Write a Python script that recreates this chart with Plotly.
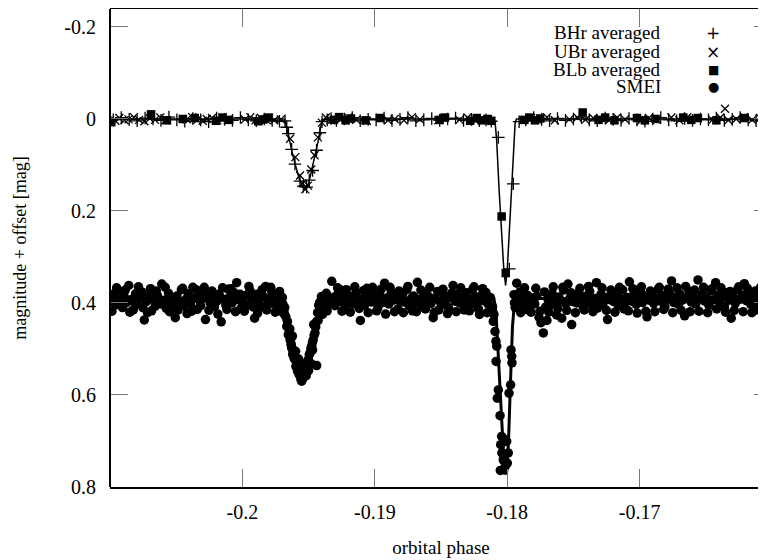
import plotly.graph_objects as go

# ---------------- data ----------------
# BHr averaged (+)
bhr_phase = [-0.20975, -0.20915, -0.20855, -0.20795, -0.20735, -0.20675, -0.20615, -0.20555, -0.20495, -0.20435,
             -0.20375, -0.20315, -0.20255, -0.20195, -0.20135, -0.20075, -0.20015, -0.19955, -0.19895, -0.19835,
             -0.19775, -0.19720,
             -0.19678, -0.19665, -0.19652, -0.19628, -0.19603, -0.19565, -0.19540, -0.19515, -0.19495, -0.19470,
             -0.19440, -0.19415, -0.19398,
             -0.19360, -0.19330, -0.19290, -0.19230, -0.19170, -0.19110, -0.19050, -0.18990, -0.18930, -0.18870,
             -0.18810, -0.18750, -0.18690, -0.18630, -0.18570, -0.18510, -0.18450, -0.18390, -0.18330, -0.18270,
             -0.18210, -0.18160, -0.18120,
             -0.18067, -0.17984, -0.17954, -0.17910,
             -0.17860, -0.17800, -0.17740, -0.17680, -0.17620, -0.17560, -0.17500, -0.17440, -0.17380, -0.17320,
             -0.17260, -0.17200, -0.17140, -0.17080, -0.17020, -0.16960, -0.16900, -0.16840, -0.16780, -0.16720,
             -0.16660, -0.16600, -0.16540, -0.16480, -0.16420, -0.16360, -0.16300, -0.16240, -0.16180, -0.16120,
             -0.16060]
bhr_mag = [0.002, -0.003, 0.001, 0.004, -0.002, 0.000, 0.003, -0.004, 0.002, 0.005,
           -0.001, 0.002, 0.006, -0.002, 0.001, 0.003, -0.003, 0.002, 0.004, 0.000,
           0.003, 0.005,
           0.004, 0.018, 0.032, 0.066, 0.098, 0.135, 0.146, 0.148, 0.133, 0.112,
           0.068, 0.030, 0.006,
           0.002, -0.001, 0.003, 0.000, -0.003, 0.004, 0.001, 0.002, -0.002, 0.003,
           0.001, -0.003, 0.004, 0.002, -0.001, 0.003, 0.000, -0.002, 0.003, 0.001,
           0.004, 0.002, 0.005,
           0.040, 0.326, 0.141, 0.006,
           0.002, -0.003, 0.001, 0.004, -0.001, 0.003, 0.000, -0.004, 0.002, 0.004,
           -0.002, 0.001, 0.003, -0.001, 0.002, 0.005, 0.000, -0.003, 0.002, 0.004,
           -0.001, 0.003, 0.000, 0.002, -0.002, 0.003, 0.001, -0.003, 0.002, 0.004,
           0.000]

# UBr averaged (x)
ubr_phase = [-0.20960, -0.20930, -0.20890, -0.20860, -0.20820, -0.20780, -0.20740, -0.20700, -0.20660, -0.20620,
             -0.20580, -0.20420, -0.20380, -0.20340, -0.20300, -0.20270, -0.20230, -0.20190, -0.20150, -0.20110,
             -0.19980, -0.19940, -0.19900, -0.19860, -0.19820, -0.19760, -0.19710,
             -0.19640, -0.19600, -0.19565, -0.19545, -0.19525, -0.19505, -0.19480, -0.19455, -0.19430, -0.19400,
             -0.19370, -0.19330, -0.19260, -0.19200, -0.19140, -0.19060, -0.18960, -0.18900, -0.18850, -0.18780,
             -0.18720, -0.18660, -0.18520, -0.18480, -0.18360, -0.18300, -0.18240, -0.18180,
             -0.17880, -0.17820, -0.17770, -0.17700, -0.17640, -0.17530, -0.17470, -0.17410, -0.17350, -0.17230,
             -0.17170, -0.17110, -0.16990, -0.16930, -0.16870, -0.16760, -0.16700, -0.16640, -0.16450, -0.16390,
             -0.16355, -0.16330, -0.16270, -0.16210, -0.16150, -0.16090]
ubr_mag = [0.004, -0.002, 0.003, 0.001, -0.004, 0.002, 0.005, -0.001, 0.002, -0.003,
           0.003, 0.001, -0.004, 0.002, 0.004, 0.000, -0.002, 0.003, -0.003, 0.002,
           0.001, -0.004, 0.003, -0.002, 0.002, 0.003, 0.001,
           0.043, 0.083, 0.123, 0.140, 0.153, 0.145, 0.110, 0.079, 0.040, 0.008,
           -0.003, 0.003, 0.002, -0.003, 0.002, 0.004, -0.002, 0.003, 0.000, 0.003,
           -0.004, 0.001, 0.003, -0.002, 0.002, -0.003, 0.004, 0.001,
           0.003, -0.002, 0.002, -0.004, 0.003, 0.001, -0.003, 0.002, -0.002, 0.003,
           -0.003, 0.001, 0.004, -0.002, 0.002, -0.003, 0.003, -0.004, 0.002, -0.003,
           -0.022, 0.003, 0.000, -0.004, 0.002, -0.002]

# BLb averaged (squares)
blb_phase = [-0.20990, -0.20690, -0.20570, -0.20450, -0.20360, -0.20200, -0.20150, -0.20100, -0.19880, -0.19840,
             -0.19800, -0.19310, -0.19270, -0.19220, -0.19180, -0.19070, -0.18960, -0.18510, -0.18470, -0.18280,
             -0.18230, -0.18190, -0.18150, -0.18120,
             -0.18042, -0.18011,
             -0.17870, -0.17830, -0.17790, -0.17750, -0.17430, -0.17310, -0.17260, -0.17190, -0.17020, -0.16960,
             -0.16880, -0.16670, -0.16610, -0.16560, -0.16420, -0.16210]
blb_mag = [0.007, -0.010, 0.003, 0.000, -0.002, 0.004, -0.003, 0.002, 0.005, 0.001,
           -0.003, 0.002, -0.004, 0.003, -0.001, 0.003, -0.002, 0.002, -0.003, 0.004,
           -0.002, 0.003, 0.000, 0.004,
           0.212, 0.335,
           0.002, -0.003, 0.003, -0.001, -0.014, 0.002, -0.003, 0.003, -0.002, 0.003,
           0.000, -0.003, 0.002, -0.002, 0.003, -0.002]

# SMEI (circles), offset +0.39 mag
smei_phase = [
    -0.20992, -0.20975, -0.20957, -0.20940, -0.20921, -0.20906,
    -0.20893, -0.20876, -0.20858, -0.20842, -0.20824, -0.20807,
    -0.20795, -0.20777, -0.20760, -0.20741, -0.20726, -0.20708,
    -0.20694, -0.20678, -0.20659, -0.20643, -0.20625, -0.20609,
    -0.20591, -0.20575, -0.20558, -0.20540, -0.20526, -0.20507,
    -0.20495, -0.20476, -0.20461, -0.20442, -0.20427, -0.20409,
    -0.20392, -0.20374, -0.20357, -0.20341, -0.20323, -0.20306,
    -0.20297, -0.20279, -0.20262, -0.20244, -0.20229, -0.20211,
    -0.20193, -0.20176, -0.20160, -0.20142, -0.20125, -0.20108,
    -0.20096, -0.20078, -0.20061, -0.20043, -0.20027, -0.20010,
    -0.19994, -0.19977, -0.19959, -0.19943, -0.19926, -0.19908,
    -0.19893, -0.19876, -0.19860, -0.19842, -0.19825, -0.19807,
    -0.19795, -0.19778, -0.19761, -0.19744, -0.19727, -0.19710,
    -0.19698, -0.19692,
    -0.19691, -0.19680, -0.19672, -0.19665, -0.19653, -0.19646, -0.19640, -0.19633, -0.19628, -0.19620,
    -0.19616, -0.19609, -0.19603, -0.19596, -0.19590, -0.19584, -0.19578, -0.19571, -0.19565, -0.19558,
    -0.19552, -0.19546, -0.19540, -0.19533, -0.19527, -0.19521, -0.19514, -0.19508, -0.19502, -0.19495,
    -0.19489, -0.19483, -0.19477, -0.19471, -0.19465, -0.19458, -0.19452, -0.19446, -0.19462, -0.19439,
    -0.19439,
    -0.19660, -0.19642, -0.19622, -0.19598, -0.19575, -0.19545, -0.19518, -0.19500, -0.19482, -0.19470,
    -0.19432, -0.19424, -0.19415, -0.19403, -0.19390, -0.19378, -0.19366, -0.19352, -0.19340, -0.19325,
    -0.19312, -0.19301,
    -0.19289, -0.19273, -0.19256, -0.19241, -0.19224, -0.19207,
    -0.19194, -0.19176, -0.19160, -0.19143, -0.19127, -0.19109,
    -0.19093, -0.19077, -0.19059, -0.19042, -0.19026, -0.19008,
    -0.18995, -0.18977, -0.18961, -0.18943, -0.18926, -0.18909,
    -0.18894, -0.18876, -0.18860, -0.18843, -0.18825, -0.18810,
    -0.18792, -0.18775, -0.18758, -0.18742, -0.18724, -0.18708,
    -0.18695, -0.18678, -0.18661, -0.18644, -0.18627, -0.18610,
    -0.18593, -0.18576, -0.18559, -0.18543, -0.18526, -0.18508,
    -0.18494, -0.18477, -0.18460, -0.18443, -0.18426, -0.18409,
    -0.18393, -0.18377, -0.18359, -0.18342, -0.18325, -0.18308,
    -0.18294, -0.18276, -0.18260, -0.18243, -0.18226, -0.18209,
    -0.18195, -0.18178, -0.18161, -0.18144, -0.18128, -0.18111,
    -0.18105, -0.18100, -0.18092, -0.18085, -0.18084, -0.18079, -0.18075, -0.18067, -0.18054, -0.18049,
    -0.18042, -0.18040, -0.18030, -0.18052, -0.18017, -0.18015, -0.18004, -0.17999, -0.17992, -0.17986,
    -0.17974, -0.17971, -0.17966, -0.17964, -0.17949, -0.17928, -0.17945, -0.17940,
    -0.17925, -0.17915, -0.17904, -0.17890, -0.17876, -0.17861, -0.17848, -0.17834, -0.17820, -0.17806,
    -0.17792, -0.17776, -0.17760, -0.17745, -0.17727, -0.17710, -0.17700,
    -0.17694, -0.17677, -0.17660, -0.17643, -0.17627, -0.17610,
    -0.17595, -0.17588, -0.17574, -0.17558, -0.17541, -0.17525, -0.17513, -0.17507,
    -0.17493, -0.17476, -0.17459, -0.17443, -0.17426, -0.17409,
    -0.17394, -0.17377, -0.17360, -0.17343, -0.17326, -0.17309,
    -0.17292, -0.17276, -0.17259, -0.17242, -0.17226, -0.17208,
    -0.17195, -0.17178, -0.17161, -0.17144, -0.17127, -0.17110,
    -0.17093, -0.17077, -0.17060, -0.17043, -0.17026, -0.17009,
    -0.16995, -0.16978, -0.16961, -0.16944, -0.16928, -0.16910,
    -0.16894, -0.16877, -0.16860, -0.16843, -0.16826, -0.16809,
    -0.16792, -0.16776, -0.16759, -0.16742, -0.16725, -0.16708,
    -0.16694, -0.16677, -0.16660, -0.16644, -0.16627, -0.16610,
    -0.16593, -0.16576, -0.16559, -0.16542, -0.16525, -0.16508,
    -0.16494, -0.16477, -0.16460, -0.16443, -0.16426, -0.16409,
    -0.16393, -0.16376, -0.16359, -0.16342, -0.16325, -0.16308,
    -0.16294, -0.16277, -0.16260, -0.16243, -0.16226, -0.16209,
    -0.16195, -0.16178, -0.16161, -0.16144, -0.16127, -0.16110,
    -0.16093, -0.16077, -0.16060, -0.16043,
    # additional SMEI points (edges of the scatter band)
    -0.20985, -0.20950, -0.20915, -0.20885, -0.20850, -0.20815, -0.20785, -0.20752, -0.20717,
    -0.20686, -0.20650, -0.20617, -0.20583, -0.20550, -0.20516, -0.20486, -0.20452, -0.20418,
    -0.20383, -0.20350, -0.20315, -0.20288, -0.20253, -0.20220, -0.20185, -0.20150, -0.20117,
    -0.20087, -0.20052, -0.20018, -0.19985, -0.19951, -0.19917, -0.19885, -0.19851, -0.19816,
    -0.19786, -0.19752, -0.19719,
    -0.19428, -0.19395, -0.19360, -0.19281, -0.19248, -0.19215, -0.19185, -0.19151, -0.19118,
    -0.19085, -0.19050, -0.19017, -0.18986, -0.18952, -0.18918, -0.18885, -0.18851, -0.18817,
    -0.18784, -0.18750, -0.18716, -0.18686, -0.18652, -0.18618, -0.18585, -0.18551, -0.18517,
    -0.18485, -0.18451, -0.18417, -0.18385, -0.18351, -0.18317, -0.18285, -0.18251, -0.18218,
    -0.18186, -0.18152, -0.18120,
    -0.17898, -0.17869, -0.17841, -0.17784, -0.17752, -0.17718, -0.17686, -0.17652, -0.17618,
    -0.17580, -0.17550, -0.17517, -0.17485, -0.17451, -0.17418, -0.17386, -0.17352, -0.17318,
    -0.17284, -0.17251, -0.17217, -0.17186, -0.17152, -0.17118, -0.17085, -0.17051, -0.17018,
    -0.16986, -0.16953, -0.16919, -0.16885, -0.16851, -0.16818, -0.16784, -0.16750, -0.16717,
    -0.16686, -0.16652, -0.16618, -0.16585, -0.16551, -0.16517, -0.16486, -0.16452, -0.16418,
    -0.16385, -0.16351, -0.16317, -0.16285, -0.16251, -0.16218, -0.16186, -0.16152, -0.16118,
    -0.16086, -0.16052, -0.16020]
smei_mag = [
    0.396, 0.381, 0.404, 0.372, 0.391, 0.410,
    0.386, 0.399, 0.362, 0.393, 0.415, 0.380,
    0.402, 0.389, 0.376, 0.437, 0.397, 0.384,
    0.369, 0.392, 0.407, 0.383, 0.398, 0.359,
    0.394, 0.412, 0.379, 0.401, 0.388, 0.432,
    0.385, 0.397, 0.371, 0.406, 0.392, 0.380,
    0.403, 0.366, 0.389, 0.414, 0.395, 0.377,
    0.390, 0.436, 0.383, 0.399, 0.374, 0.408,
    0.396, 0.381, 0.441, 0.392, 0.405, 0.370,
    0.387, 0.400, 0.378, 0.356, 0.393, 0.411,
    0.398, 0.384, 0.405, 0.373, 0.390, 0.433,
    0.381, 0.395, 0.408, 0.386, 0.364, 0.399,
    0.391, 0.376, 0.402, 0.385, 0.413, 0.394,
    0.388, 0.404,
    0.422, 0.410, 0.430, 0.451, 0.469, 0.458, 0.480, 0.490, 0.498, 0.512,
    0.509, 0.520, 0.523, 0.538, 0.530, 0.548, 0.545, 0.556, 0.556, 0.566,
    0.570, 0.561, 0.563, 0.549, 0.552, 0.540, 0.538, 0.527, 0.523, 0.512,
    0.509, 0.500, 0.494, 0.486, 0.480, 0.470, 0.465, 0.452, 0.447, 0.440,
    0.536,
    0.440, 0.456, 0.472, 0.505, 0.522, 0.533, 0.558, 0.547, 0.532, 0.502,
    0.421, 0.405, 0.398, 0.386, 0.410, 0.392, 0.379, 0.401, 0.395, 0.353,
    0.388, 0.406,
    0.384, 0.397, 0.372, 0.391, 0.409, 0.383,
    0.399, 0.387, 0.402, 0.378, 0.394, 0.438,
    0.391, 0.405, 0.368, 0.386, 0.398, 0.380,
    0.393, 0.411, 0.384, 0.399, 0.357, 0.389,
    0.402, 0.376, 0.394, 0.387, 0.413, 0.396,
    0.382, 0.398, 0.371, 0.405, 0.390, 0.385,
    0.399, 0.355, 0.392, 0.408, 0.379, 0.395,
    0.386, 0.401, 0.432, 0.390, 0.375, 0.397,
    0.404, 0.383, 0.393, 0.410, 0.387, 0.362,
    0.396, 0.381, 0.400, 0.389, 0.415, 0.378,
    0.392, 0.403, 0.370, 0.386, 0.398, 0.425,
    0.384, 0.395, 0.377, 0.402, 0.388, 0.408,
    0.440, 0.425, 0.462, 0.483, 0.527, 0.494, 0.607, 0.589, 0.645, 0.708,
    0.690, 0.726, 0.741, 0.764, 0.697, 0.755, 0.701, 0.748, 0.726, 0.596,
    0.578, 0.502, 0.516, 0.530, 0.382, 0.357, 0.400, 0.410,
    0.385, 0.398, 0.376, 0.404, 0.391, 0.412, 0.383, 0.396, 0.420, 0.389,
    0.402, 0.385, 0.431, 0.443, 0.465, 0.409, 0.438,
    0.391, 0.404, 0.380, 0.398, 0.426, 0.387,
    0.395, 0.433, 0.372, 0.401, 0.359, 0.389, 0.447, 0.397,
    0.383, 0.400, 0.378, 0.392, 0.409, 0.386,
    0.398, 0.375, 0.404, 0.390, 0.356, 0.395,
    0.381, 0.401, 0.388, 0.436, 0.393, 0.377,
    0.397, 0.384, 0.406, 0.391, 0.372, 0.400,
    0.388, 0.354, 0.396, 0.381, 0.403, 0.390,
    0.376, 0.399, 0.385, 0.430, 0.394, 0.382,
    0.401, 0.389, 0.370, 0.396, 0.384, 0.408,
    0.392, 0.378, 0.352, 0.399, 0.387, 0.403,
    0.381, 0.394, 0.428, 0.390, 0.375, 0.398,
    0.386, 0.402, 0.350, 0.391, 0.380, 0.396,
    0.389, 0.405, 0.373, 0.393, 0.356, 0.384,
    0.399, 0.386, 0.409, 0.378, 0.394, 0.433,
    0.387, 0.401, 0.371, 0.392, 0.383, 0.358,
    0.395, 0.381, 0.403, 0.389, 0.374, 0.397,
    0.385, 0.400, 0.428, 0.391,
    # additional SMEI points
    0.418, 0.367, 0.395, 0.372, 0.420, 0.399, 0.365, 0.410, 0.421,
    0.417, 0.374, 0.402, 0.366, 0.419, 0.404, 0.415, 0.368, 0.423,
    0.418, 0.371, 0.406, 0.366, 0.416, 0.391, 0.424, 0.367, 0.414,
    0.369, 0.419, 0.381, 0.418, 0.364, 0.409, 0.422, 0.371, 0.415,
    0.366, 0.420, 0.375,
    0.438, 0.425, 0.417, 0.367, 0.418, 0.371, 0.420, 0.365, 0.412,
    0.373, 0.421, 0.366, 0.417, 0.370, 0.424, 0.366, 0.419, 0.374,
    0.421, 0.364, 0.417, 0.419, 0.372, 0.413, 0.366, 0.420, 0.415,
    0.370, 0.423, 0.378, 0.419, 0.367, 0.405, 0.417, 0.365, 0.413,
    0.369, 0.421, 0.418,
    0.421, 0.367, 0.415, 0.368, 0.418, 0.376, 0.420, 0.365, 0.412,
    0.366, 0.416, 0.378, 0.421, 0.368, 0.415, 0.364, 0.419, 0.411,
    0.367, 0.416, 0.372, 0.420, 0.366, 0.413, 0.417, 0.369, 0.422,
    0.365, 0.418, 0.374, 0.419, 0.366, 0.414, 0.370, 0.421, 0.367,
    0.416, 0.364, 0.419, 0.372, 0.418, 0.366, 0.421, 0.369, 0.413,
    0.367, 0.420, 0.375, 0.416, 0.365, 0.419, 0.368, 0.421, 0.415,
    0.366, 0.418, 0.372]

# Model light curves
model_top_phase = [-0.21000, -0.19690, -0.19678, -0.19665, -0.19640, -0.19616, -0.19578, -0.19550, -0.19527,
                   -0.19505, -0.19489, -0.19452, -0.19427, -0.19405, -0.19389, -0.19375,
                   -0.18100, -0.18092, -0.18080, -0.18060, -0.18040, -0.18025, -0.18012, -0.18000, -0.17985,
                   -0.17965, -0.17950, -0.17940, -0.17930, -0.16000]
model_top_mag = [0.000, 0.000, 0.002, 0.020, 0.050, 0.083, 0.123, 0.145, 0.152,
                 0.145, 0.127, 0.083, 0.047, 0.012, 0.001, 0.000,
                 0.000, 0.005, 0.045, 0.160, 0.270, 0.330, 0.362, 0.330, 0.250,
                 0.140, 0.055, 0.008, 0.000, 0.000]

model_smei_phase = [-0.21000, -0.19700, -0.19680, -0.19660, -0.19630, -0.19600, -0.19570, -0.19545, -0.19525,
                    -0.19500, -0.19480, -0.19455, -0.19430, -0.19405, -0.19385,
                    -0.18100, -0.18085, -0.18070, -0.18050, -0.18030, -0.18020, -0.18005, -0.17990, -0.17975,
                    -0.17960, -0.17945, -0.17930, -0.16000]
model_smei_mag = [0.390, 0.390, 0.395, 0.420, 0.460, 0.500, 0.540, 0.560, 0.565,
                  0.550, 0.520, 0.470, 0.425, 0.395, 0.390,
                  0.390, 0.420, 0.500, 0.620, 0.730, 0.770, 0.770, 0.700, 0.570,
                  0.450, 0.400, 0.390, 0.390]

x_ticks = [-0.2, -0.19, -0.18, -0.17]
x_tick_labels = ["-0.2", "-0.19", "-0.18", "-0.17"]
y_ticks = [-0.2, 0, 0.2, 0.4, 0.6, 0.8]
y_tick_labels = ["-0.2", "0", "0.2", "0.4", "0.6", "0.8"]
legend_names = ["BHr averaged", "UBr averaged", "BLb averaged", "SMEI"]
legend_glyphs = ["+", "\u00d7", "\u25a0", "\u25cf"]

# ---------------- figure ----------------
FONT = "Liberation Serif, Times New Roman, serif"
fig = go.Figure()

fig.add_trace(go.Scatter(x=smei_phase, y=smei_mag, mode="markers", name="SMEI",
                         marker=dict(symbol="circle", size=9.5, color="black", line=dict(width=0))))
fig.add_trace(go.Scatter(x=model_smei_phase, y=model_smei_mag, mode="lines", name="model SMEI",
                         line=dict(color="black", width=3)))
fig.add_trace(go.Scatter(x=model_top_phase, y=model_top_mag, mode="lines", name="model",
                         line=dict(color="black", width=1.5)))
fig.add_trace(go.Scatter(x=blb_phase, y=blb_mag, mode="markers", name="BLb averaged",
                         marker=dict(symbol="square", size=8.5, color="black", line=dict(width=0))))
fig.add_trace(go.Scatter(x=ubr_phase, y=ubr_mag, mode="markers", name="UBr averaged",
                         marker=dict(symbol="x-thin-open", size=8, color="black",
                                     line=dict(width=1.3, color="black"))))
fig.add_trace(go.Scatter(x=bhr_phase, y=bhr_mag, mode="markers", name="BHr averaged",
                         marker=dict(symbol="cross-thin-open", size=9, color="black",
                                     line=dict(width=1.3, color="black"))))
# invisible trace for the right-hand tick axis
fig.add_trace(go.Scatter(x=[x_ticks[0]], y=[y_ticks[0]], yaxis="y2", mode="markers",
                         marker=dict(opacity=0), showlegend=False, hoverinfo="skip"))

axis_common = dict(ticks="inside", ticklen=18, tickwidth=1, tickcolor="#777777",
                   showgrid=False, zeroline=False,
                   tickfont=dict(family=FONT, size=20, color="black"))

fig.update_layout(
    width=764, height=552,
    margin=dict(l=102, r=0, t=1, b=73),
    paper_bgcolor="white", plot_bgcolor="white",
    showlegend=False,
    xaxis=dict(range=[-0.21, -0.16], tickvals=x_ticks, ticktext=x_tick_labels,
               showline=True, linewidth=2, linecolor="black", mirror="ticks",
               ticklabelstandoff=6,
               title=dict(text="orbital phase", font=dict(family=FONT, size=19, color="black"),
                          standoff=19),
               **axis_common),
    yaxis=dict(range=[0.8, -0.239], tickvals=y_ticks, ticktext=y_tick_labels,
               showline=False, mirror="ticks", ticklabelstandoff=13,
               title=dict(text="magnitude + offset [mag]",
                          font=dict(family=FONT, size=18, color="black"), standoff=33),
               **axis_common),
    yaxis2=dict(range=[0.8, -0.239], overlaying="y", side="right", tickvals=y_ticks,
                showticklabels=False, showline=False, ticks="inside", ticklen=18,
                tickwidth=1, tickcolor="#777777", showgrid=False, zeroline=False),
    shapes=[dict(type="line", xref="paper", yref="paper", x0=0, x1=0, y0=0, y1=1,
                 line=dict(color="black", width=2))],
)

row_y = [0.950, 0.911, 0.873, 0.837]
annotations = []
for name, yy in zip(legend_names, row_y):
    annotations.append(dict(xref="paper", yref="paper", x=0.835, y=yy, text=name,
                            xanchor="right", yanchor="middle", showarrow=False,
                            font=dict(family=FONT, size=19, color="black")))
glyph_sizes = [17, 17, 12, 13]
for glyph, yy, gs in zip(legend_glyphs, row_y, glyph_sizes):
    annotations.append(dict(xref="paper", yref="paper", x=0.911, y=yy, text=glyph,
                            xanchor="center", yanchor="middle", showarrow=False,
                            font=dict(family="DejaVu Sans", size=gs, color="black")))
fig.update_layout(annotations=annotations)

fig.write_html("out.html")
